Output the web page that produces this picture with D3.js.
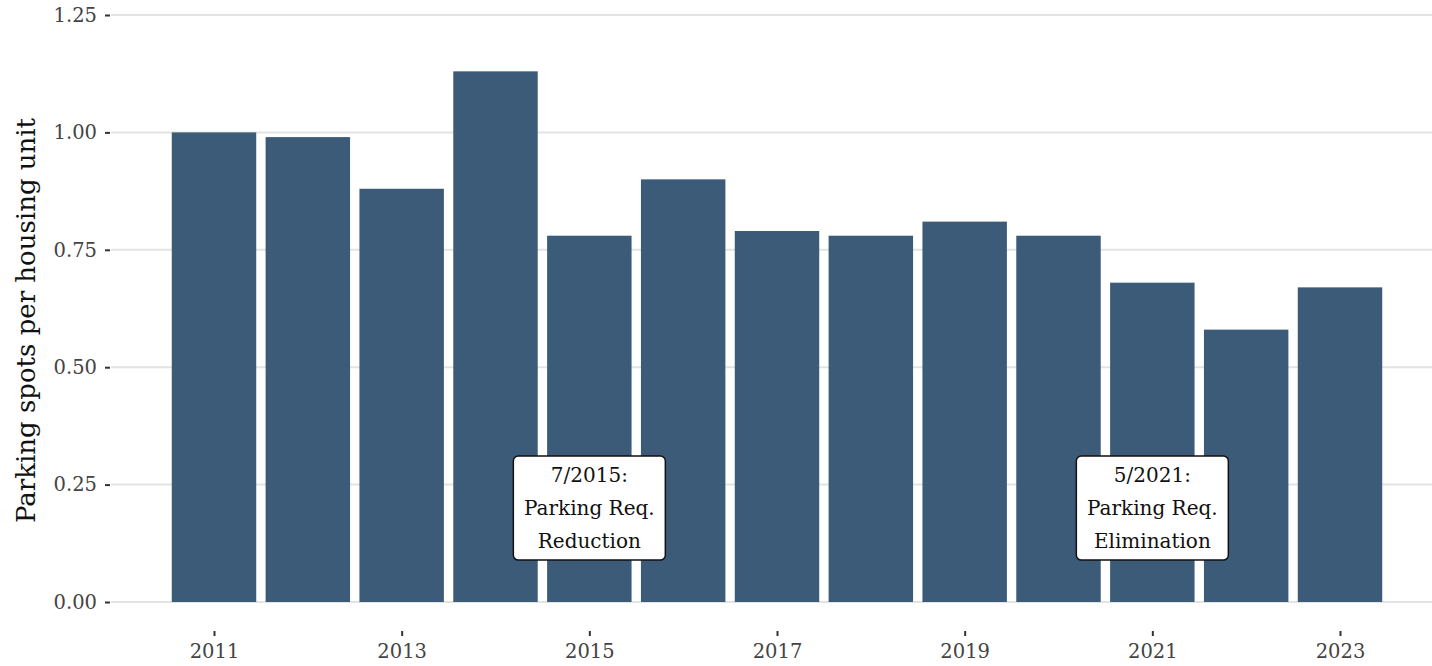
<!DOCTYPE html>
<html>
<head>
<meta charset="utf-8">
<title>Parking spots per housing unit</title>
<script src="https://d3js.org/d3.v7.min.js"></script>
<style>
  html, body { margin: 0; padding: 0; background: #fff; }
  text { font-family: "DejaVu Serif", serif; fill: #333; }
  .grid line { stroke: #e3e3e3; stroke-width: 2px; }
  .axis path { display: none; }
  .axis line { stroke: #333; stroke-width: 2px; }
  .axis text { font-size: 19.5px; fill: #444; }
  .note rect { fill: #fff; stroke: #111; stroke-width: 1.5px; }
  .note text { font-size: 20px; fill: #111; }
</style>
</head>
<body>
<script>
  // data
  var years = [2011, 2012, 2013, 2014, 2015, 2016, 2017, 2018, 2019, 2020, 2021, 2022, 2023];
  var spots = [1.00, 0.99, 0.88, 1.13, 0.78, 0.90, 0.79, 0.78, 0.81, 0.78, 0.68, 0.58, 0.67];
  var yTicks = [0, 0.25, 0.5, 0.75, 1.0, 1.25];
  var xTicks = [2011, 2013, 2015, 2017, 2019, 2021, 2023];
  var notes = [
    {x: 2015, y: 0.2, lines: ["7/2015:", "Parking Req.", "Reduction"]},
    {x: 2021, y: 0.2, lines: ["5/2021:", "Parking Req.", "Elimination"]}
  ];

  var width = 1432, height = 666;
  var plotLeft = 111, plotRight = 1432, plotTop = 15, plotBottom = 602;

  var svg = d3.select("body").append("svg")
      .attr("width", width).attr("height", height);

  // x: continuous years, bar width 0.9 of a year (ggplot style)
  var x = d3.scaleLinear().domain([2011, 2023]).range([214, 1340]);
  var unit = x(2012) - x(2011);
  var y = d3.scaleLinear().domain([0, 1.25]).range([plotBottom, plotTop]);

  // horizontal gridlines
  svg.append("g").attr("class", "grid")
    .selectAll("line").data(yTicks).enter()
    .append("line")
    .attr("x1", plotLeft).attr("x2", plotRight)
    .attr("y1", function(d) { return y(d); })
    .attr("y2", function(d) { return y(d); });

  // bars
  svg.append("g").selectAll("rect")
    .data(years).enter()
    .append("rect")
    .attr("x", function(d) { return x(d) - unit * 0.45; })
    .attr("width", unit * 0.9)
    .attr("y", function(d, i) { return y(spots[i]); })
    .attr("height", function(d, i) { return y(0) - y(spots[i]); })
    .attr("fill", "#3c5b78");

  // y axis
  var yAxis = d3.axisLeft(y).tickValues(yTicks)
      .tickFormat(d3.format(".2f")).tickSize(5).tickPadding(8);
  svg.append("g").attr("class", "axis y")
    .attr("transform", "translate(" + (plotLeft - 1) + ",0)")
    .call(yAxis);

  // x axis
  var xAxis = d3.axisBottom(x).tickValues(xTicks)
      .tickFormat(d3.format("d")).tickSize(5).tickPadding(8);
  svg.append("g").attr("class", "axis x")
    .attr("transform", "translate(0," + (plotBottom + 29) + ")")
    .call(xAxis);

  // y title
  svg.append("text")
    .attr("transform", "translate(35," + ((plotTop + plotBottom) / 2 + 12) + ") rotate(-90)")
    .attr("text-anchor", "middle")
    .style("font-size", "26px")
    .style("fill", "#111")
    .text("Parking spots per housing unit");

  // annotation labels
  var note = svg.selectAll(".note").data(notes).enter()
    .append("g").attr("class", "note")
    .attr("transform", function(d) { return "translate(" + x(d.x) + "," + y(d.y) + ")"; });

  note.append("rect")
    .attr("x", -76).attr("y", -52)
    .attr("width", 152).attr("height", 104)
    .attr("rx", 5).attr("ry", 5);

  note.each(function(d) {
    var g = d3.select(this);
    d.lines.forEach(function(t, i) {
      g.append("text")
        .attr("text-anchor", "middle")
        .attr("y", -33 + i * 33)
        .attr("dy", "0.35em")
        .text(t);
    });
  });
</script>
</body>
</html>
